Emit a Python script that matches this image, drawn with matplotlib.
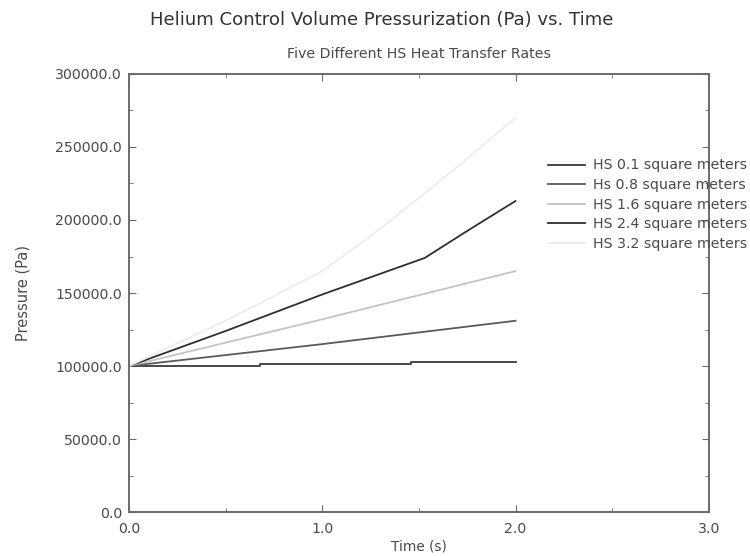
import matplotlib
matplotlib.use("Agg")
import matplotlib.pyplot as plt
from matplotlib.ticker import MultipleLocator, FormatStrFormatter

plt.rcParams['font.family'] = ['DejaVu Sans']

# values (time in s, pressure in Pa)
t_01 = [0.0, 0.68, 0.68, 1.46, 1.46, 2.0]
p_01 = [100000, 100000, 101200, 101200, 102500, 102500]

t_08 = [0.0, 0.5, 1.0, 1.5, 2.0]
p_08 = [100000, 107500, 115000, 123000, 131000]

t_16 = [0.0, 0.5, 1.0, 1.5, 2.0]
p_16 = [100000, 116000, 132000, 148500, 165000]

t_24 = [0.0, 0.5, 1.0, 1.53, 1.75, 2.0]
p_24 = [100000, 124000, 149000, 174000, 192500, 213000]

t_32 = [0.0, 0.5, 1.0, 1.25, 1.5, 1.75, 2.0]
p_32 = [100000, 131000, 165000, 189000, 215000, 242000, 270000]

labels = ['HS 0.1 square meters', 'Hs 0.8 square meters', 'HS 1.6 square meters',
          'HS 2.4 square meters', 'HS 3.2 square meters']
colors = ['#3a3a3a', '#5a5a5a', '#c4c4c4', '#2e2e2e', '#ececec']

fig = plt.figure(figsize=(7.5, 5.56), dpi=100)
ax = fig.add_axes([0.172, 0.079, 0.773, 0.788])

series = [(t_01, p_01), (t_08, p_08), (t_16, p_16), (t_24, p_24), (t_32, p_32)]
for (t, p), lab, c in zip(series, labels, colors):
    ax.plot(t, p, color=c, linewidth=1.3, label=lab)

ax.set_xlim(0, 3)
ax.set_ylim(0, 300000)
ax.xaxis.set_major_locator(MultipleLocator(1.0))
ax.xaxis.set_minor_locator(MultipleLocator(0.5))
ax.yaxis.set_major_locator(MultipleLocator(50000))
ax.yaxis.set_minor_locator(MultipleLocator(25000))
ax.xaxis.set_major_formatter(FormatStrFormatter('%.1f'))
ax.yaxis.set_major_formatter(FormatStrFormatter('%.1f'))

txt = '#4a4a4a'
for s in ax.spines.values():
    s.set_color('#6a6a6a')
    s.set_linewidth(1.4)
ax.tick_params(which='both', direction='in', top=True, right=True,
               colors='#6a6a6a', labelcolor=txt, labelsize=10.2)
ax.tick_params(which='major', length=5)
ax.tick_params(axis='x', pad=7)
ax.tick_params(axis='y', pad=5)
ax.tick_params(which='minor', length=3)

ax.set_xlabel('Time (s)', fontsize=9.8, color=txt, labelpad=3)
ax.set_ylabel('Pressure (Pa)', fontsize=10.5, color=txt, labelpad=18)

fig.text(0.509, 0.964, 'Helium Control Volume Pressurization (Pa) vs. Time',
         ha='center', va='center', fontsize=13.1, color='#333333')
fig.text(0.559, 0.903, 'Five Different HS Heat Transfer Rates',
         ha='center', va='center', fontsize=10.2, color=txt)

ax.legend(loc='upper left', bbox_to_anchor=(0.731, 0.715), bbox_transform=fig.transFigure,
          frameon=False, fontsize=10.2, labelcolor=txt, handlelength=2.6,
          handletextpad=0.56, labelspacing=0.39, borderpad=0, borderaxespad=0)

fig.savefig('out.png', dpi=100)
